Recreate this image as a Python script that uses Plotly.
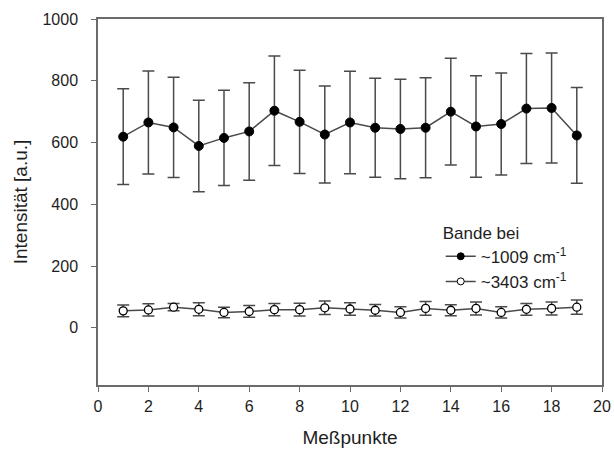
import plotly.graph_objects as go

x_points = list(range(1, 20))
band_1009 = [619, 665, 649, 589, 615, 636, 703, 667, 626, 665, 648, 644, 648, 700, 652, 660, 710, 712, 623]
err_1009 = [155, 167, 162, 148, 154, 158, 177, 167, 157, 166, 160, 161, 162, 173, 164, 165, 178, 178, 155]
band_3403 = [55, 58, 67, 60, 50, 53, 59, 59, 65, 61, 57, 50, 63, 57, 63, 50, 60, 63, 67]
err_3403 = [19, 20, 12, 21, 17, 19, 20, 21, 22, 20, 19, 18, 22, 18, 21, 18, 19, 21, 23]
x_ticks = [0, 2, 4, 6, 8, 10, 12, 14, 16, 18, 20]
y_ticks = [0, 200, 400, 600, 800, 1000]
series_names = ["~1009 cm<sup>-1</sup>", "~3403 cm<sup>-1</sup>"]

line_col = "#4a4a4a"
axis_col = "#6b6b6b"
text_col = "#1e1e1e"
font_fam = "Liberation Sans, Arial, sans-serif"

fig = go.Figure()
fig.add_trace(go.Scatter(
    x=x_points, y=band_1009, mode="lines+markers", showlegend=False,
    line=dict(color=line_col, width=1.5),
    marker=dict(symbol="circle", size=9, color="black", line=dict(color="black", width=1)),
    error_y=dict(type="data", array=err_1009, visible=True, color=line_col, thickness=1.5, width=6),
))
fig.add_trace(go.Scatter(
    x=x_points, y=band_3403, mode="lines+markers", showlegend=False,
    line=dict(color=line_col, width=1.5),
    marker=dict(symbol="circle", size=8, color="white", line=dict(color="black", width=1.3)),
    error_y=dict(type="data", array=err_3403, visible=True, color=line_col, thickness=1.5, width=6),
))
# legend entries (smaller symbols, as in the reference legend)
fig.add_trace(go.Scatter(
    x=[None], y=[None], mode="lines+markers", name=series_names[0],
    line=dict(color=line_col, width=1.5),
    marker=dict(symbol="circle", size=7, color="black", line=dict(color="black", width=1)),
))
fig.add_trace(go.Scatter(
    x=[None], y=[None], mode="lines+markers", name=series_names[1],
    line=dict(color=line_col, width=1.5),
    marker=dict(symbol="circle", size=7, color="white", line=dict(color="black", width=1)),
))

fig.update_layout(
    width=614, height=456,
    margin=dict(l=98, r=12, t=19, b=71, autoexpand=False),
    paper_bgcolor="white", plot_bgcolor="white",
    font=dict(family=font_fam, color=text_col),
    showlegend=True,
    legend=dict(
        x=0.68, y=0.46, xanchor="left", yanchor="top",
        bgcolor="rgba(0,0,0,0)",
        title=dict(text="Bande bei", font=dict(size=17, family=font_fam, color=text_col)),
        font=dict(size=17, family=font_fam, color=text_col),
        tracegroupgap=0, itemwidth=30,
    ),
    xaxis=dict(
        range=[0, 20], tickvals=x_ticks, ticktext=[str(v) for v in x_ticks],
        showgrid=False, zeroline=False, automargin=False,
        showline=True, linecolor=axis_col, linewidth=1.5, mirror=True,
        ticks="outside", ticklen=5, tickcolor=axis_col, tickwidth=1.2,
        ticklabelstandoff=1, ticklabeloverflow="allow",
        tickfont=dict(size=16, family=font_fam, color=text_col),
        title=dict(text="Meßpunkte", font=dict(size=19, family=font_fam, color=text_col), standoff=17),
    ),
    yaxis=dict(
        range=[-185, 1000], tickvals=y_ticks, ticktext=[str(v) for v in y_ticks],
        showgrid=False, zeroline=False, automargin=False,
        showline=True, linecolor=axis_col, linewidth=1.5, mirror=True,
        ticks="outside", ticklen=5, tickcolor=axis_col, tickwidth=1.2,
        ticklabelstandoff=10,
        tickfont=dict(size=16, family=font_fam, color=text_col),
        title=dict(text="Intensität [a.u.]", font=dict(size=19, family=font_fam, color=text_col), standoff=10),
    ),
)

fig.write_html(
    "out.html",
    config={"displayModeBar": False},
    post_script="document.body.style.margin='0';document.body.style.overflow='hidden';",
)
